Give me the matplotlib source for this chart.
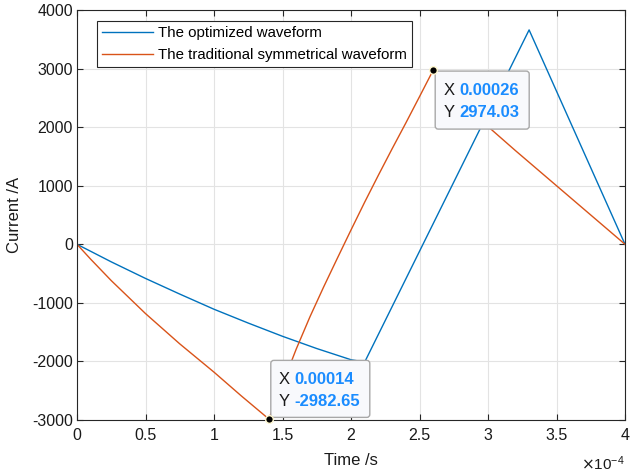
import numpy as np
import matplotlib.pyplot as plt
from matplotlib.patches import FancyBboxPatch
from matplotlib.transforms import IdentityTransform
from matplotlib.ticker import FuncFormatter, MultipleLocator

plt.rcParams['font.family'] = ['Liberation Sans', 'DejaVu Sans']
plt.rcParams['axes.unicode_minus'] = False

# optimized waveform (time in units of 1e-4 s, current in A)
t_opt = [0, 0.25, 0.5, 0.75, 1.0, 1.25, 1.5, 1.75, 2.0, 2.1, 3.3, 4.0]
i_opt = [0, -300, -583, -850, -1109, -1345, -1571, -1780, -1971, -2010, 3660, 0]

# traditional symmetrical waveform
t_sym = [0, 0.1, 0.25, 0.5, 0.75, 1.0, 1.2, 1.4, 1.5, 1.6, 1.7, 1.8, 1.9,
         2.0, 2.1, 2.2, 2.3, 2.4, 2.5, 2.6, 2.8, 3.0, 3.2, 3.4, 3.6, 3.8, 4.0]
i_sym = [0, -255, -620, -1183, -1700, -2183, -2590, -2982.65, -2390, -1790,
         -1240, -730, -240, 244, 720, 1180, 1630, 2070, 2520, 2974.03, 2470,
         2010, 1600, 1200, 800, 400, 0]

tip_idx = [7, 19]  # data tips on the symmetrical waveform

blue = '#0072BD'
orange = '#D95319'
tip_blue = '#1A8CFF'

t_opt = np.array(t_opt) * 1e-4
t_sym = np.array(t_sym) * 1e-4

fig = plt.figure(figsize=(6.32, 4.73), dpi=100)
ax = fig.add_axes([77 / 632, 53 / 473, 548 / 632, 410 / 473])

ax.plot(t_opt, i_opt, color=blue, lw=1.0, label='The optimized waveform')
ax.plot(t_sym, i_sym, color=orange, lw=1.0,
        label='The traditional symmetrical waveform')

ax.set_xlim(0, 4e-4)
ax.set_ylim(-3000, 4000)
ax.xaxis.set_major_locator(MultipleLocator(0.5e-4))
ax.yaxis.set_major_locator(MultipleLocator(1000))
ax.xaxis.set_major_formatter(FuncFormatter(lambda v, p: '%g' % round(v * 1e4, 3)))
ax.grid(True, color='#E3E3E3', lw=0.8)
ax.set_axisbelow(True)
for s in ax.spines.values():
    s.set_color('#262626')
    s.set_linewidth(0.8)
ax.tick_params(direction='in', top=True, right=True, length=4, width=0.8,
               color='#262626', labelsize=11.5, labelcolor='#1a1a1a')
ax.tick_params(axis='x', pad=6)
ax.tick_params(axis='y', pad=3)

ax.set_xlabel('Time /s', fontsize=12, labelpad=7, color='#1a1a1a')
ax.set_ylabel('Current /A', fontsize=12, labelpad=7, color='#1a1a1a')
ax.text(1.0, -0.085, r'$\times\mathregular{10^{-4}}$', transform=ax.transAxes,
        ha='right', va='top', fontsize=11, color='#1a1a1a')

leg = ax.legend(loc='upper left', bbox_to_anchor=(0.036, 0.973),
                borderaxespad=0, fontsize=10.8, handlelength=3.4,
                handletextpad=0.35, labelspacing=0.5, borderpad=0.35,
                fancybox=False, framealpha=1, edgecolor='#262626')
leg.get_frame().set_linewidth(0.8)

# data tips: box offsets in pixels (left, bottom, width, height) from the point
tip_boxes = [(2, 1.6, 99, 57), (2, -59, 94, 58)]
for k, (dx, dy, w, h) in zip(tip_idx, tip_boxes):
    x, y = t_sym[k], i_sym[k]
    px, py = ax.transData.transform((x, y))
    box = FancyBboxPatch((px + dx, py + dy), w, h,
                         boxstyle='round,pad=0,rounding_size=3',
                         transform=IdentityTransform(), facecolor='#F8F9FC',
                         edgecolor='#A8A8A8', lw=1.0, zorder=5, clip_on=False)
    ax.add_artist(box)
    top = dy + h
    rows = [('X', '%g' % x), ('Y', '%.2f' % y)]
    for r, (name, val) in enumerate(rows):
        yy = top - 19 - r * 22.5
        ax.annotate(name, (x, y), xytext=(dx + 8, yy), textcoords='offset pixels',
                    va='center', ha='left', fontsize=12, color='#1a1a1a',
                    zorder=6, annotation_clip=False)
        ax.annotate(val, (x, y), xytext=(dx + 24, yy), textcoords='offset pixels',
                    va='center', ha='left', fontsize=12, color=tip_blue,
                    fontweight='bold', zorder=6, annotation_clip=False)
    ax.plot([x], [y], 'o', ms=5.5, mfc='black', mec='#FFF8D0', mew=1.0,
            zorder=7, clip_on=False)

fig.savefig('out.png', dpi=100)
